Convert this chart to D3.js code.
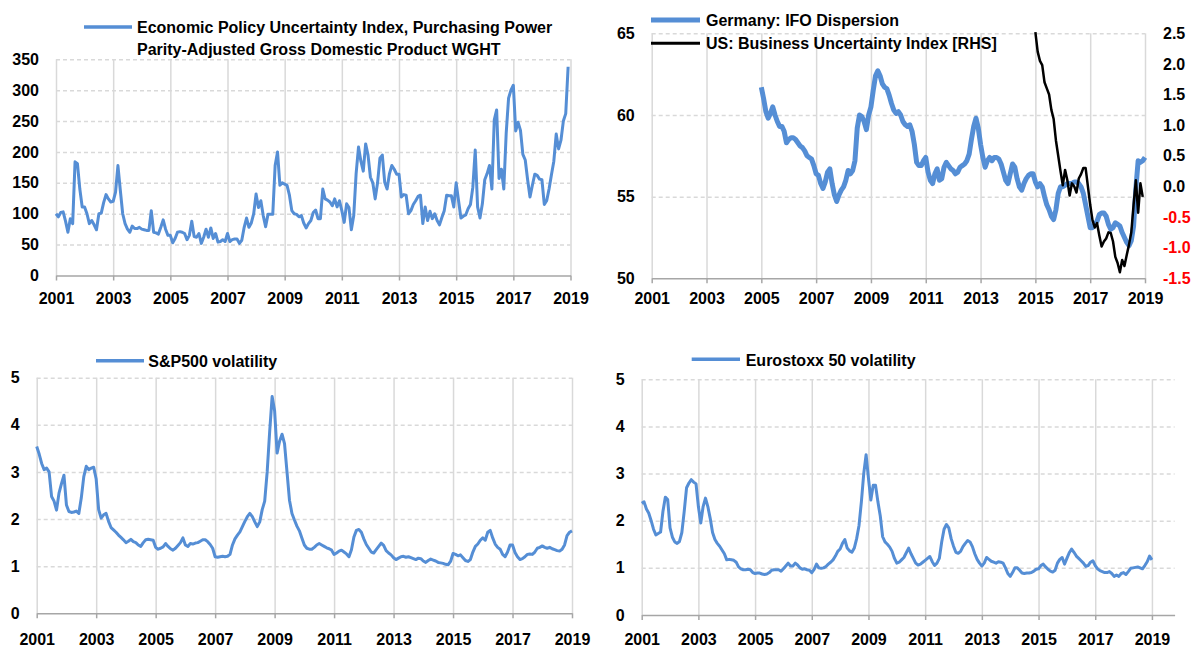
<!DOCTYPE html>
<html>
<head>
<meta charset="utf-8">
<script src="https://cdn.jsdelivr.net/npm/d3@7"></script>
<style>
body { margin: 0; background: #fff; }
svg text { font-family: "Liberation Sans", Arial, sans-serif; font-weight: bold; font-size: 16px; fill: #000; }
.grid line { stroke: #d9d9d9; stroke-width: 1.5; }
.grid path { display: none; }
.hgrid line { stroke-dasharray: 4,3; }
.xaxis path, .xaxis line { stroke: #a6a6a6; stroke-width: 1.5; }
.yaxis path { display: none; }
</style>
</head>
<body>
<svg width="1194" height="648"></svg>
<script>
var svg = d3.select("svg");
var blue = "#558ED5";

var years = [2001, 2003, 2005, 2007, 2009, 2011, 2013, 2015, 2017, 2019];

// monthly, Jan 2001 - Dec 2018
var epuValues = [
  100,95,102,103,88,70,92,84,184,181,140,111,
  111,100,84,89,82,74,100,101,118,131,124,119,
  120,135,178,138,100,84,75,70,80,76,76,78,
  75,74,73,73,105,70,69,67,78,90,75,65,
  65,53,60,70,71,70,68,58,65,88,63,62,
  68,52,62,75,62,77,60,68,54,55,58,55,
  68,55,58,59,59,52,57,78,93,78,85,100,
  132,110,121,97,79,99,99,99,178,200,146,150,
  148,146,130,105,100,99,95,97,85,77,84,89,
  102,106,92,92,140,124,122,119,113,124,111,121,
  105,86,116,110,74,97,165,208,185,169,213,195,
  159,150,124,150,190,195,151,140,165,178,172,164,
  164,127,131,130,100,105,115,121,128,130,84,111,
  89,104,92,100,89,82,94,105,130,129,129,111,
  150,121,93,96,98,108,115,143,203,111,93,116,
  155,165,178,140,252,268,157,172,140,230,287,300,
  308,234,248,235,196,187,155,127,146,164,162,156,
  155,115,121,140,163,185,229,205,219,250,262,338
];

// monthly, Jan 2005 - Jan 2019
var ifoValues = [
  61.7,61.0,60.2,59.8,60.1,60.5,60.0,59.6,59.3,59.3,59.0,58.3,
  58.5,58.6,58.6,58.5,58.3,58.1,58.0,57.8,57.5,57.4,57.3,56.9,
  56.4,56.3,55.8,55.5,55.9,56.5,56.7,55.8,55.1,54.7,55.1,55.4,
  55.6,56.0,56.6,56.4,56.6,57.2,59.2,60.0,59.9,59.6,59.1,60.0,
  60.5,61.5,62.4,62.7,62.4,61.9,61.7,61.6,61.2,60.7,60.3,60.1,
  60.2,60.0,59.6,59.4,59.3,59.4,59.0,58.2,57.1,56.9,56.9,57.2,
  57.4,56.5,56.0,55.8,56.4,56.7,56.0,56.1,56.8,57.1,56.9,56.7,
  56.6,56.4,56.5,56.8,56.9,57.0,57.2,57.6,58.5,59.3,59.8,59.2,
  58.2,57.4,56.8,57.2,57.4,57.2,57.4,57.4,57.3,57.0,56.5,56.0,
  55.8,56.4,57.0,56.8,56.1,55.6,55.4,55.8,56.1,56.3,56.4,56.4,
  55.9,55.6,55.8,55.6,55.0,54.5,54.2,53.8,53.6,54.2,55.2,55.6,
  55.6,55.7,55.8,55.8,55.8,55.9,55.9,55.8,55.6,55.2,54.5,53.8,
  53.1,53.1,53.3,53.5,53.9,54.0,54.0,53.8,53.3,53.0,53.1,53.4,
  53.3,53.2,52.8,52.5,52.2,52.0,52.3,53.2,55.5,57.2,57.1,57.2,
  57.4
];

// monthly, Jan 2015 - Dec 2018 (right axis)
var usUncValues = [
  2.52,2.2,2.05,1.98,1.7,1.6,1.5,1.25,1.1,0.75,0.5,0.25,
  0.02,0.27,0.1,-0.15,0.05,0.0,-0.1,0.13,0.2,0.3,0.3,0.0,
  -0.3,-0.55,-0.67,-0.6,-0.8,-0.98,-0.9,-0.85,-0.75,-0.76,-0.9,-1.15,
  -1.25,-1.4,-1.2,-1.3,-1.12,-0.95,-0.75,-0.3,0.1,-0.43,0.05,-0.17
];

// monthly, Jan 2001 - Jan 2019
var spxVolValues = [
  3.54,3.38,3.18,3.05,3.08,3.0,2.48,2.38,2.19,2.55,2.75,2.93,
  2.3,2.16,2.14,2.15,2.17,2.12,2.45,2.9,3.12,3.05,3.08,3.1,
  2.85,2.2,2.02,2.09,2.12,1.95,1.82,1.77,1.72,1.66,1.61,1.56,
  1.5,1.53,1.57,1.52,1.5,1.45,1.42,1.5,1.56,1.57,1.56,1.55,
  1.4,1.36,1.38,1.41,1.48,1.42,1.37,1.34,1.38,1.44,1.5,1.6,
  1.45,1.42,1.48,1.47,1.49,1.5,1.53,1.56,1.56,1.52,1.46,1.38,
  1.2,1.19,1.2,1.21,1.2,1.21,1.25,1.45,1.58,1.66,1.73,1.84,
  1.95,2.05,2.12,2.05,1.94,1.84,1.94,2.2,2.38,3.0,3.85,4.6,
  4.3,3.4,3.65,3.8,3.6,3.0,2.4,2.12,1.98,1.85,1.75,1.6,
  1.45,1.38,1.36,1.36,1.4,1.45,1.48,1.45,1.42,1.39,1.37,1.34,
  1.25,1.28,1.32,1.34,1.3,1.26,1.2,1.35,1.62,1.76,1.78,1.72,
  1.58,1.46,1.38,1.3,1.28,1.35,1.42,1.49,1.44,1.33,1.28,1.24,
  1.18,1.14,1.17,1.2,1.21,1.19,1.2,1.18,1.16,1.14,1.17,1.16,
  1.11,1.08,1.12,1.15,1.13,1.11,1.08,1.07,1.06,1.04,1.03,1.1,
  1.27,1.25,1.22,1.24,1.18,1.12,1.1,1.14,1.3,1.42,1.47,1.55,
  1.6,1.55,1.72,1.76,1.6,1.47,1.4,1.36,1.25,1.2,1.3,1.45,
  1.45,1.29,1.2,1.14,1.16,1.2,1.25,1.26,1.25,1.3,1.38,1.4,
  1.43,1.4,1.38,1.4,1.37,1.35,1.33,1.32,1.36,1.45,1.65,1.72,
  1.75
];

// monthly, Jan 2001 - Jan 2019
var sx5eVolValues = [
  2.37,2.4,2.25,2.16,2.0,1.82,1.7,1.73,1.76,2.2,2.5,2.45,
  1.85,1.65,1.55,1.52,1.56,1.75,2.2,2.7,2.8,2.87,2.82,2.78,
  2.3,1.95,2.3,2.48,2.3,2.05,1.75,1.6,1.52,1.46,1.38,1.3,
  1.17,1.18,1.17,1.16,1.12,1.02,0.98,0.96,0.96,0.97,0.96,0.9,
  0.88,0.89,0.89,0.87,0.86,0.87,0.9,0.95,0.96,0.96,0.96,0.93,
  0.98,1.04,1.1,1.04,1.04,1.1,1.06,1.0,0.97,0.98,0.96,0.95,
  0.9,0.97,1.08,1.0,0.99,1.0,1.03,1.08,1.12,1.17,1.25,1.35,
  1.4,1.52,1.6,1.42,1.36,1.33,1.42,1.62,1.9,2.4,3.0,3.4,
  2.9,2.44,2.75,2.75,2.4,2.1,1.66,1.55,1.5,1.44,1.35,1.2,
  1.1,1.12,1.17,1.22,1.32,1.42,1.3,1.2,1.1,1.06,1.08,1.12,
  1.16,1.2,1.24,1.13,1.05,1.1,1.2,1.55,1.82,1.92,1.85,1.62,
  1.46,1.33,1.31,1.35,1.45,1.52,1.58,1.55,1.45,1.3,1.18,1.1,
  1.04,1.1,1.22,1.18,1.14,1.12,1.1,1.13,1.12,1.1,1.0,0.88,
  0.82,0.9,1.0,1.0,0.95,0.89,0.88,0.89,0.89,0.9,0.93,0.97,
  0.98,1.05,1.08,1.02,0.97,0.93,0.91,0.95,1.1,1.18,1.22,1.08,
  1.2,1.32,1.4,1.33,1.25,1.2,1.15,1.1,1.03,1.05,1.12,1.15,
  1.05,0.98,0.94,0.92,0.9,0.9,0.92,0.88,0.82,0.85,0.82,0.88,
  0.9,0.86,0.92,0.99,1.0,1.01,1.02,1.0,0.98,1.05,1.13,1.25,
  1.17
];

var epuTicks = [0, 50, 100, 150, 200, 250, 300, 350];
var ifoTicks = [50, 55, 60, 65];
var usTicks = [-1.5, -1.0, -0.5, 0.0, 0.5, 1.0, 1.5, 2.0, 2.5];
var volTicks = [0, 1, 2, 3, 4, 5];

function monthly(startYear, values) {
  return values.map(function(v, i) { return { t: startYear + i / 12, v: v }; });
}

// gridlines + x axis + left labels for one panel
function frame(x, y, yTicks, labelBaseline) {
  var left = x.range()[0], right = x.range()[1];
  var bottom = y.range()[0], top = y.range()[1];

  svg.append("g")
      .attr("class", "grid")
      .attr("transform", "translate(0," + bottom + ")")
      .call(d3.axisBottom(x).tickValues(years).tickSize(-(bottom - top)).tickFormat(""));

  svg.append("g")
      .attr("class", "grid hgrid")
      .attr("transform", "translate(" + left + ",0)")
      .call(d3.axisLeft(y).tickValues(yTicks.slice(1)).tickSize(-(right - left)).tickFormat(""));

  var xa = svg.append("g")
      .attr("class", "xaxis")
      .attr("transform", "translate(0," + bottom + ")")
      .call(d3.axisBottom(x).tickValues(years).tickFormat(d3.format("d")).tickSize(5).tickSizeOuter(0));
  xa.selectAll("text").attr("y", labelBaseline - bottom).attr("dy", 0);

  svg.append("g")
      .attr("class", "yaxis")
      .attr("transform", "translate(" + left + ",0)")
      .call(d3.axisLeft(y).tickValues(yTicks).tickSize(0).tickPadding(17).tickFormat(d3.format("d")));
}

function drawLine(data, x, y, color, width) {
  svg.append("path")
      .datum(data)
      .attr("fill", "none")
      .attr("stroke", color)
      .attr("stroke-width", width)
      .attr("stroke-linejoin", "round")
      .attr("d", d3.line().x(function(d) { return x(d.t); }).y(function(d) { return y(d.v); }));
}

function legendItem(x1, x2, y, textX, baseline, color, width, lines) {
  svg.append("line")
      .attr("x1", x1).attr("x2", x2).attr("y1", y).attr("y2", y)
      .attr("stroke", color).attr("stroke-width", width);
  lines.forEach(function(s, i) {
    svg.append("text").attr("x", textX).attr("y", baseline + i * 22).text(s);
  });
}

// ---- top left: EPU
var x1 = d3.scaleLinear().domain([2001, 2019]).range([56, 570.5]);
var y1 = d3.scaleLinear().domain([0, 350]).range([275.5, 59.3]);
frame(x1, y1, epuTicks, 304);
drawLine(monthly(2001, epuValues), x1, y1, blue, 3);
legendItem(84, 132, 27, 137, 33, blue, 3.5,
  ["Economic Policy Uncertainty Index, Purchasing Power",
   "Parity-Adjusted Gross Domestic Product WGHT"]);

// ---- top right: IFO dispersion + US business uncertainty
var x2 = d3.scaleLinear().domain([2001, 2019]).range([651.7, 1145]);
var y2 = d3.scaleLinear().domain([50, 65]).range([278.3, 33.3]);
var y2r = d3.scaleLinear().domain([-1.5, 2.5]).range([278.3, 33.3]);
frame(x2, y2, ifoTicks, 304);

var ra = svg.append("g")
    .attr("class", "yaxis")
    .attr("transform", "translate(1163,0)")
    .call(d3.axisRight(y2r).tickValues(usTicks).tickSize(0).tickPadding(0)
      .tickFormat(function(d) { return d.toFixed(1); }));
ra.selectAll("text").style("fill", function(d) { return d < 0 ? "#ff0000" : "#000"; });

drawLine(monthly(2005, ifoValues), x2, y2, blue, 5);
drawLine(monthly(2015, usUncValues), x2, y2r, "#000", 2.5);
legendItem(651, 700, 20, 706, 26, blue, 5, ["Germany: IFO Dispersion"]);
legendItem(651, 700, 43.3, 706, 49, "#000", 3, ["US: Business Uncertainty Index [RHS]"]);

// ---- bottom left: S&P500 volatility
var x3 = d3.scaleLinear().domain([2001, 2019]).range([36.7, 572]);
var y3 = d3.scaleLinear().domain([0, 5]).range([613.3, 377.7]);
frame(x3, y3, volTicks, 645);
drawLine(monthly(2001, spxVolValues), x3, y3, blue, 3);
legendItem(96, 144, 360.7, 148.3, 366.5, blue, 3.5, ["S&P500 volatility"]);

// ---- bottom right: Eurostoxx 50 volatility
var x4 = d3.scaleLinear().domain([2001, 2019.8]).range([641.7, 1174.6]);
var y4 = d3.scaleLinear().domain([0, 5]).range([615, 379.3]);
frame(x4, y4, volTicks, 645);
drawLine(monthly(2001, sx5eVolValues), x4, y4, blue, 3);
legendItem(691.7, 740, 359.3, 745.7, 365.5, blue, 3.5, ["Eurostoxx 50 volatility"]);
</script>
</body>
</html>
